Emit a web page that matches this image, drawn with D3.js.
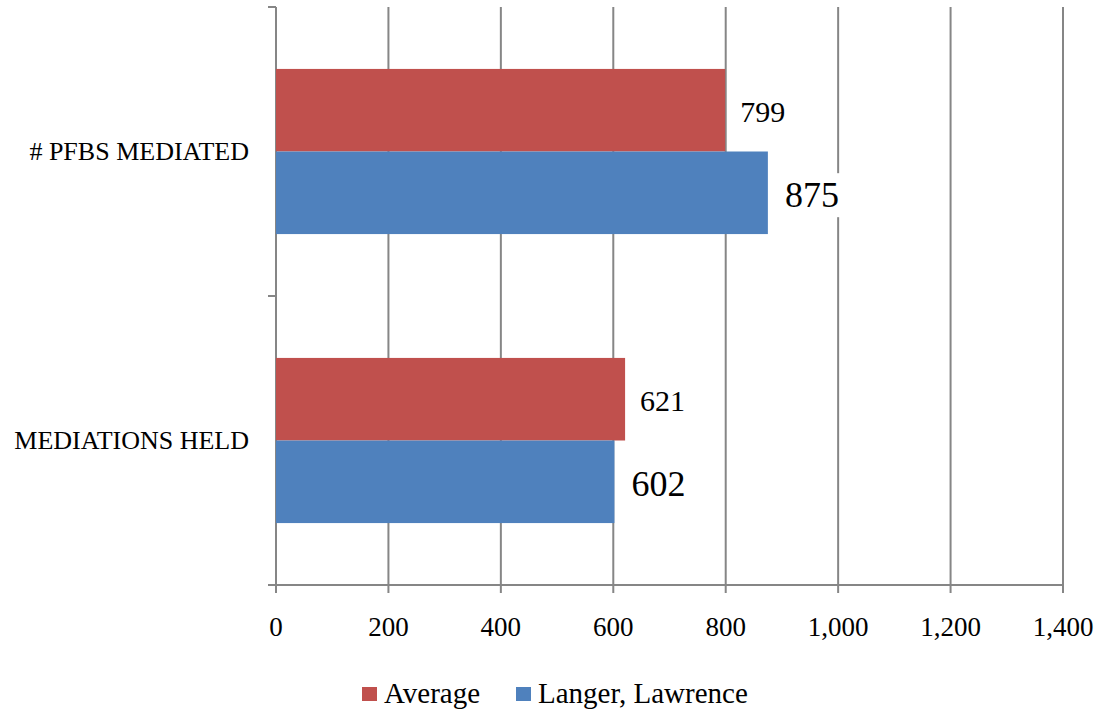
<!DOCTYPE html>
<html><head><meta charset="utf-8">
<script src="https://cdn.jsdelivr.net/npm/d3@7"></script>
<style>body{margin:0;background:#fff}svg{display:block}</style>
</head><body><svg id="c" width="1100" height="715" font-family="'Liberation Serif', 'Times New Roman', Times, serif"></svg>
<script>
const categories = ["# PFBS MEDIATED", "MEDIATIONS HELD"];
const seriesNames = ["Average", "Langer, Lawrence"];
const averageValues = [799, 621];
const langerValues = [875, 602];
const tickValues = [0, 200, 400, 600, 800, 1000, 1200, 1400];
const colors = ["#C0504D", "#4F81BD"];
const labelSizes = [30, 36];

(function () {
const svg = d3.select("#c");
const L = 276, R = 1063, T = 7, B = 585;
const x = d3.scaleLinear().domain([0, 1400]).range([L, R]);
const y = d3.scaleBand().domain(categories).range([T, B]);
const inner = d3.scaleBand().domain(seriesNames).range([0, y.bandwidth()]).paddingOuter(0.75);
const grid = "#868686";

svg.append("g").selectAll("line").data(tickValues.slice(1)).join("line")
  .attr("x1", d => x(d)).attr("x2", d => x(d)).attr("y1", T).attr("y2", B + 8)
  .attr("stroke", grid).attr("stroke-width", 2);
svg.append("line").attr("x1", L - 8).attr("x2", R).attr("y1", B).attr("y2", B).attr("stroke", grid).attr("stroke-width", 2);
svg.append("line").attr("x1", L).attr("x2", L).attr("y1", B).attr("y2", B + 8).attr("stroke", grid).attr("stroke-width", 2);
svg.append("line").attr("x1", L).attr("x2", L).attr("y1", T).attr("y2", B).attr("stroke", grid).attr("stroke-width", 2);
const yTicks = [T, T + y.bandwidth(), B];
svg.append("g").selectAll("line").data(yTicks).join("line")
  .attr("x1", L - 8).attr("x2", L).attr("y1", d => d).attr("y2", d => d)
  .attr("stroke", grid).attr("stroke-width", 2);

const fmt = d3.format(",");
svg.append("g").selectAll("text").data(tickValues).join("text")
  .attr("x", d => x(d)).attr("y", 636).attr("text-anchor", "middle")
  .attr("font-size", 27).attr("fill", "#000").text(d => fmt(d));

svg.append("g").selectAll("text").data(categories).join("text")
  .attr("x", 249).attr("y", d => y(d) + y.bandwidth() / 2 + 8).attr("text-anchor", "end")
  .attr("font-size", 26).attr("fill", "#000").text(d => d);

const series = [averageValues, langerValues];
const offs = [15, 17];
series.forEach((vals, si) => {
  const g = svg.append("g");
  g.selectAll("rect.bar").data(categories).join("rect").attr("class", "bar")
    .attr("x", x(0)).attr("y", c => y(c) + inner(seriesNames[si]))
    .attr("width", (c, i) => x(vals[i]) - x(0)).attr("height", inner.bandwidth())
    .attr("fill", colors[si]);
  categories.forEach((c, i) => {
    const cy = y(c) + inner(seriesNames[si]) + inner.bandwidth() / 2;
    const fs = labelSizes[si];
    const bg = g.append("rect").attr("fill", "#fff");
    const t = g.append("text").attr("x", x(vals[i]) + offs[si]).attr("y", cy + fs * 0.4)
      .attr("font-size", fs).attr("fill", "#000").text(vals[i]);
    const bb = t.node().getBBox();
    bg.attr("x", bb.x - 3).attr("y", bb.y - 2).attr("width", bb.width + 6).attr("height", bb.height + 4);
  });
});

const lg = svg.append("g");
const legendX = [362, 516];
seriesNames.forEach((n, i) => {
  lg.append("rect").attr("x", legendX[i]).attr("y", 687).attr("width", 15).attr("height", 14).attr("fill", colors[i]);
  lg.append("text").attr("x", legendX[i] + 22).attr("y", 703).attr("font-size", 29).attr("fill", "#000").text(n);
});
})();
</script></body></html>
